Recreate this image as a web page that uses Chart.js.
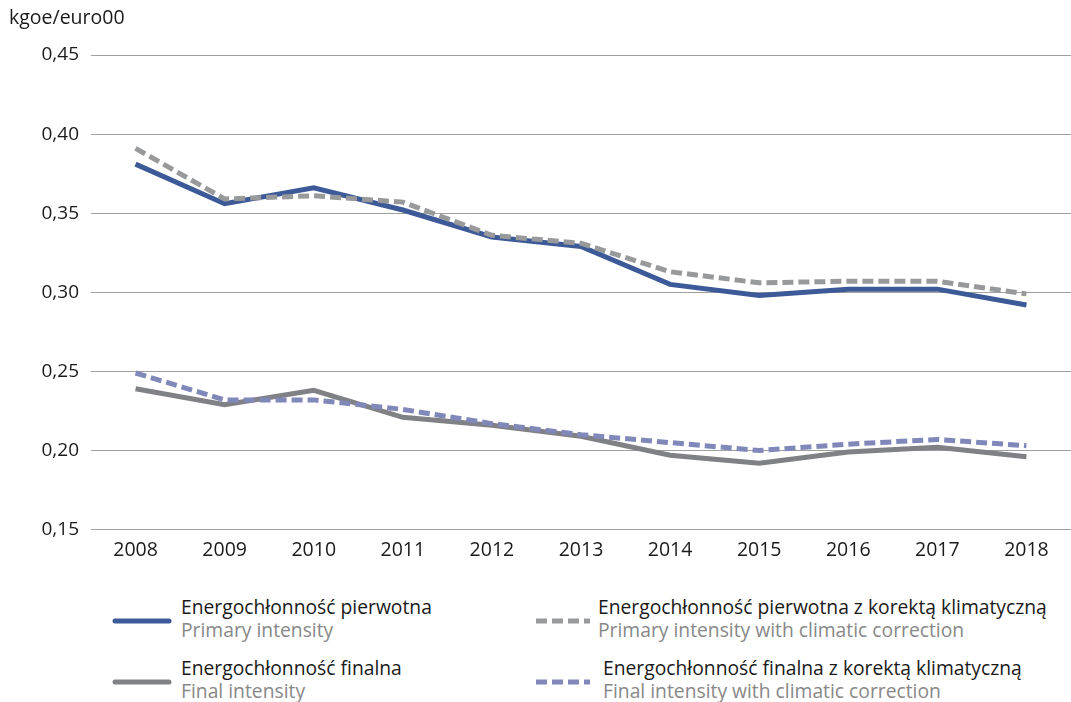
<!DOCTYPE html>
<html>
<head>
<meta charset="utf-8">
<script src="https://cdn.jsdelivr.net/npm/chart.js@4"></script>
<style>
  body { margin: 0; background: #fff; font-family: "Open Sans", sans-serif; }
  #wrap { position: relative; width: 1071px; height: 702px; }
  #chartbox { position: absolute; left: 0; top: 0; width: 1071px; height: 571px; }
  .leg { position: absolute; font-size: 19.3px; line-height: 23px; }
  .leg .pl { color: #1a1a1a; }
  .leg .en { color: #888; }
  .sw { position: absolute; }
</style>
</head>
<body>
<div id="wrap">
  <div id="chartbox"><canvas id="energy"></canvas></div>
  <div id="legend"></div>
</div>
<script>
const years = ["2008","2009","2010","2011","2012","2013","2014","2015","2016","2017","2018"];

const primary = [0.381,0.356,0.366,0.352,0.335,0.329,0.305,0.298,0.302,0.302,0.292];
const primaryClimate = [0.391,0.359,0.361,0.357,0.336,0.331,0.313,0.306,0.307,0.307,0.299];
const final = [0.239,0.229,0.238,0.221,0.216,0.209,0.197,0.192,0.199,0.202,0.196];
const finalClimate = [0.249,0.232,0.232,0.226,0.217,0.210,0.205,0.200,0.204,0.207,0.203];

const namesPl = [
    "Energochłonność pierwotna",
    "Energochłonność pierwotna z korektą klimatyczną",
    "Energochłonność finalna",
    "Energochłonność finalna z korektą klimatyczną"
];
const namesEn = [
    "Primary intensity",
    "Primary intensity with climatic correction",
    "Final intensity",
    "Final intensity with climatic correction"
];

const colors = ["#3d5a98", "#98999b", "#808184", "#8088b9"];
const dashes = [[], [11, 5], [], [11, 5]];

const unitLabel = {
    id: "unitLabel",
    afterDraw(chart) {
        const c = chart.ctx;
        c.save();
        c.font = "19.5px 'Open Sans'";
        c.fillStyle = "#1a1a1a";
        c.textBaseline = "middle";
        c.fillText("kgoe/euro00", 9, 18);
        c.restore();
    }
};

const ctx = document.getElementById("energy").getContext("2d");
const seriesList = [primary, primaryClimate, final, finalClimate];
const datasets = seriesList.map((d, i) => ({
    label: namesPl[i],
    data: d,
    borderColor: colors[i],
    borderWidth: 5,
    borderDash: dashes[i],
    pointRadius: 0,
    fill: false,
    tension: 0,
}));
// solid lines drawn on top of the dashed ones
const order = [1, 0, 3, 2];
order.forEach((o, k) => { datasets[o].order = k; });

new Chart(ctx, {
    type: "line",
    data: { labels: years, datasets },
    options: {
        responsive: true,
        maintainAspectRatio: false,
        animation: false,
        layout: { padding: { top: 55, right: 0, left: 0, bottom: 0 } },
        plugins: {
            legend: { display: false },
            tooltip: { enabled: false },
        },
        scales: {
            x: {
                offset: true,
                grid: { display: false, drawTicks: false },
                border: { display: false },
                ticks: { color: "#1a1a1a", font: { family: "Open Sans", size: 19.5 }, padding: 9 },
            },
            y: {
                min: 0.15,
                max: 0.45,
                grid: { color: "#a0a0a0", lineWidth: 1, drawTicks: false },
                border: { display: false },
                afterFit(scale) { scale.width = 91; },
                ticks: {
                    stepSize: 0.05,
                    padding: 12,
                    color: "#1a1a1a",
                    font: { family: "Open Sans", size: 19 },
                    callback: v => v.toFixed(2).replace(".", ","),
                },
            },
        },
    },
    plugins: [unitLabel],
});

// legend in two columns with two-line labels
const legend = document.getElementById("legend");
const legPos = [
    { sx: 112, tx: 181, ty: 595 },
    { sx: 533, tx: 598, ty: 595 },
    { sx: 112, tx: 181, ty: 656 },
    { sx: 533, tx: 603, ty: 656 },
];
legPos.forEach((p, i) => {
    const svg = document.createElementNS("http://www.w3.org/2000/svg", "svg");
    svg.setAttribute("class", "sw");
    svg.setAttribute("width", "62");
    svg.setAttribute("height", "10");
    svg.style.left = p.sx + "px";
    svg.style.top = (p.ty + 21) + "px";
    const ln = document.createElementNS("http://www.w3.org/2000/svg", "line");
    ln.setAttribute("x1", "3"); ln.setAttribute("x2", "57");
    ln.setAttribute("y1", "5"); ln.setAttribute("y2", "5");
    ln.setAttribute("stroke", colors[i]);
    ln.setAttribute("stroke-width", "5");
    if (dashes[i].length) {
        ln.setAttribute("stroke-dasharray", "11 5");
    } else {
        ln.setAttribute("stroke-linecap", "round");
    }
    svg.appendChild(ln);
    legend.appendChild(svg);

    const box = document.createElement("div");
    box.className = "leg";
    box.style.left = p.tx + "px";
    box.style.top = p.ty + "px";
    box.innerHTML = '<div class="pl">' + namesPl[i] + '</div><div class="en">' + namesEn[i] + '</div>';
    legend.appendChild(box);
});
</script>
</body>
</html>
